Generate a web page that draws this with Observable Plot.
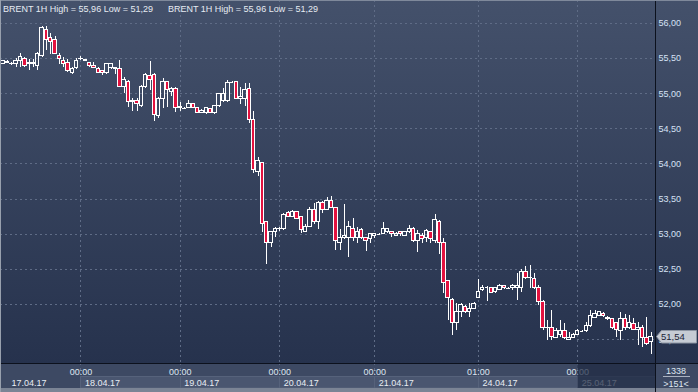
<!DOCTYPE html>
<html><head><meta charset="utf-8">
<script src="https://cdn.jsdelivr.net/npm/d3@7"></script>
<script src="https://cdn.jsdelivr.net/npm/@observablehq/plot@0.6"></script>
<style>
html,body{margin:0;padding:0;background:#2b3750;overflow:hidden;}
#chart svg{display:block;}
</style></head><body><div id="chart"></div>
<script>
const titleText = "BRENT 1H High = 55,96 Low = 51,29";
const opens = [55.43,55.44,55.43,55.42,55.46,55.50,55.42,55.44,55.40,55.54,55.91,55.79,55.76,55.54,55.47,55.44,55.30,55.36,55.49,55.48,
55.44,55.40,55.35,55.32,55.29,55.36,55.37,55.35,55.10,55.17,54.88,54.90,54.83,55.10,55.25,55.27,54.68,54.93,55.16,55.02,
55.07,54.80,54.79,54.80,54.86,54.80,54.73,54.73,54.78,54.72,54.82,54.90,54.89,55.16,55.16,54.92,54.92,55.07,54.63,53.89,
54.02,53.18,52.87,53.03,53.07,53.07,53.30,53.25,53.31,53.24,53.03,53.11,53.34,53.18,53.45,53.35,53.48,53.37,52.88,52.94,
52.95,53.08,52.95,53.06,52.94,52.93,52.98,53.00,53.01,53.03,53.03,52.98,53.03,52.98,53.03,53.07,52.91,52.98,52.94,53.03,
52.90,53.18,52.87,52.33,52.07,51.73,51.89,51.97,51.89,51.94,52.09,52.20,52.24,52.23,52.18,52.21,52.26,52.23,52.23,52.24,
52.24,52.46,52.38,52.36,52.23,52.04,51.66,51.66,51.53,51.57,51.62,51.50,51.53,51.57,51.62,51.62,51.69,51.81,51.84,51.87,
51.81,51.79,51.73,51.62,51.79,51.67,51.72,51.63,51.66,51.53,51.47];
const highs = [55.47,55.47,55.44,55.50,55.57,55.52,55.49,55.49,55.59,55.95,55.96,55.86,55.81,55.57,55.52,55.49,55.37,55.50,55.53,55.49,
55.45,55.44,55.37,55.33,55.43,55.43,55.38,55.47,55.23,55.19,54.93,54.93,55.12,55.29,55.46,55.29,54.95,55.22,55.17,55.09,
55.09,54.88,54.80,54.90,54.86,54.80,54.78,54.80,54.79,54.83,55.00,55.07,55.19,55.17,55.16,55.09,55.15,55.15,54.75,54.09,
54.02,53.18,53.04,53.10,53.10,53.30,53.32,53.34,53.32,53.25,53.14,53.38,53.44,53.47,53.47,53.52,53.54,53.38,53.07,53.42,
53.18,53.22,53.10,53.08,52.95,53.01,53.01,53.01,53.17,53.08,53.04,53.02,53.04,53.04,53.13,53.10,53.06,53.01,53.07,53.04,
53.28,53.20,52.94,52.34,52.09,52.01,52.01,51.99,52.01,52.03,52.36,52.27,52.25,52.24,52.24,52.28,52.26,52.24,52.28,52.44,
52.50,52.54,52.56,52.44,52.27,52.06,51.77,51.91,51.66,51.77,51.73,51.60,51.59,51.64,51.63,51.74,51.91,51.91,51.90,51.88,
51.83,51.80,51.74,51.89,51.86,51.84,51.80,51.74,51.70,51.81,51.60];
const lows = [55.42,55.43,55.40,55.37,55.37,55.37,55.33,55.37,55.33,55.52,55.62,55.56,55.56,55.42,55.37,55.30,55.27,55.35,55.48,55.46,
55.37,55.36,55.29,55.26,55.28,55.35,55.27,55.09,55.00,54.80,54.75,54.75,54.80,55.07,55.05,54.60,54.65,54.79,54.80,54.96,
54.73,54.75,54.78,54.79,54.79,54.72,54.72,54.70,54.72,54.70,54.80,54.88,54.88,55.15,54.92,54.85,54.82,54.58,53.86,53.82,
53.03,52.57,52.81,52.95,53.04,53.06,53.24,53.24,53.21,53.01,53.02,53.10,53.14,53.07,53.30,53.34,53.37,52.77,52.77,52.93,
52.67,52.90,52.87,52.93,52.75,52.87,52.94,52.98,53.00,53.01,52.95,52.97,52.97,52.97,53.01,52.88,52.74,52.87,52.88,52.87,
52.87,52.71,52.16,51.77,51.56,51.63,51.81,51.87,51.81,51.93,52.08,52.18,52.04,52.16,52.16,52.20,52.21,52.21,52.20,52.06,
52.17,52.36,52.23,52.22,51.99,51.63,51.49,51.49,51.52,51.53,51.50,51.49,51.52,51.56,51.61,51.60,51.67,51.80,51.83,51.81,
51.77,51.64,51.53,51.49,51.63,51.64,51.63,51.42,51.39,51.42,51.29];
const closes = [55.46,55.45,55.42,55.46,55.52,55.40,55.44,55.42,55.57,55.94,55.77,55.74,55.57,55.49,55.42,55.32,55.35,55.47,55.50,55.47,
55.39,55.37,55.30,55.29,55.42,55.42,55.35,55.10,55.20,54.88,54.90,54.85,55.10,55.27,55.19,54.70,54.93,55.16,55.05,55.07,
54.80,54.81,54.79,54.85,54.80,54.73,54.76,54.79,54.73,54.82,54.99,55.00,55.15,55.16,54.93,54.95,55.06,54.63,53.91,54.04,
53.15,52.87,53.03,53.07,53.08,53.28,53.25,53.32,53.22,53.06,53.11,53.34,53.17,53.44,53.34,53.48,53.38,52.90,52.94,52.98,
53.10,52.94,53.03,52.95,52.90,53.00,53.00,53.00,53.07,53.07,53.00,53.01,53.00,53.03,53.07,52.91,53.00,52.93,53.04,52.93,
53.20,52.88,52.31,52.09,51.74,51.89,51.99,51.89,51.94,52.01,52.18,52.23,52.24,52.17,52.23,52.26,52.23,52.23,52.26,52.26,
52.46,52.37,52.37,52.23,52.04,51.66,51.67,51.54,51.62,51.62,51.52,51.53,51.57,51.62,51.62,51.69,51.83,51.86,51.89,51.83,
51.79,51.66,51.63,51.79,51.66,51.73,51.64,51.67,51.53,51.44,51.54];
const dayStarts = [18, 41, 64, 86, 110, 133];
const timeLabels = ["00:00", "00:00", "00:00", "00:00", "01:00", "00:00"];
const dateStarts = [1, 18, 41, 64, 86, 110, 133];
const dateLabels = ["17.04.17", "18.04.17", "19.04.17", "20.04.17", "21.04.17", "24.04.17", "25.04.17"];
const yTicks = [51.5, 52, 52.5, 53, 53.5, 54, 54.5, 55, 55.5, 56];
const gridPrices = [52, 52.5, 53, 53.5, 54, 54.5, 55, 55.5, 56];
const lastPrice = 51.54;
const barsTotal = "1338";
const barsVisible = ">151<";

const candles = opens.map((o, i) => ({i, open: o, high: highs[i], low: lows[i], close: closes[i]}));
const dojis = candles.filter(d => d.open === d.close);
const bodies = candles.filter(d => d.open !== d.close);

const FONT = "'Liberation Sans', Arial, sans-serif";
const RED = "#e3123f";
const GRID = "#5f6c86";
const fmt = v => v.toFixed(2).replace(".", ",");
const HW = 0.4;

const plot = Plot.plot({
  width: 698, height: 392,
  marginTop: 0, marginRight: 43, marginBottom: 29, marginLeft: 0,
  style: {background: "transparent", fontFamily: FONT, fontSize: "9px", color: "#d6e2f5", overflow: "visible"},
  x: {domain: [-0.625, 151], axis: null},
  y: {domain: [51.16, 56.327], axis: null},
  marks: [
    Plot.ruleY(gridPrices, {stroke: GRID, strokeDasharray: "2,3", shapeRendering: "crispEdges"}),
    Plot.ruleY([51.5], {x1: 133, x2: 151, stroke: GRID, strokeDasharray: "2,3", shapeRendering: "crispEdges"}),
    Plot.ruleX(dayStarts, {stroke: GRID, strokeDasharray: "2,3", shapeRendering: "crispEdges"}),
    Plot.ruleX(candles, {x: "i", y1: "high", y2: d => Math.max(d.open, d.close), stroke: "#ffffff", shapeRendering: "crispEdges"}),
    Plot.ruleX(candles, {x: "i", y1: d => Math.min(d.open, d.close), y2: "low", stroke: "#ffffff", shapeRendering: "crispEdges"}),
    Plot.rect(bodies, {x1: d => d.i - HW, x2: d => d.i + HW, y1: "open", y2: "close",
      fill: d => d.close < d.open ? RED : "none", stroke: "#ffffff", shapeRendering: "crispEdges"}),
    Plot.ruleY(dojis, {y: "open", x1: d => d.i - HW, x2: d => d.i + HW, stroke: "#ffffff", shapeRendering: "crispEdges"}),
    Plot.axisY(yTicks, {anchor: "right", tickSize: 0, tickPadding: 3, tickFormat: fmt, fill: "#d6e2f5"}),
    Plot.text(dayStarts, {x: d => d, text: (d, k) => timeLabels[k], frameAnchor: "bottom", dy: 11, lineAnchor: "bottom", textAnchor: "middle", fill: "#dfe6f0"}),
    Plot.text(dateStarts, {x: d => d, text: (d, k) => dateLabels[k], frameAnchor: "bottom", dy: 22, dx: 4, lineAnchor: "bottom", textAnchor: "start", fill: "#e8edf3"})
  ]
});

const sx = plot.scale("x"), sy = plot.scale("y");
const W = 698, H = 392, PR = 655, PB = 363;
const NS = "http://www.w3.org/2000/svg";
const back = document.createElementNS(NS, "g");
plot.insertBefore(back, plot.firstChild);
const defs = document.createElementNS(NS, "defs");
plot.insertBefore(defs, plot.firstChild);
const grad = d3.select(defs).append("linearGradient").attr("id", "bgGrad").attr("x1", 0).attr("y1", 0).attr("x2", 0).attr("y2", 1);
grad.append("stop").attr("offset", "0%").attr("stop-color", "#44516b");
grad.append("stop").attr("offset", "100%").attr("stop-color", "#26324d");
const b = d3.select(back);
b.append("rect").attr("x", 0).attr("y", 0).attr("width", W).attr("height", PB).attr("fill", "url(#bgGrad)");
b.append("rect").attr("x", 0).attr("y", PB).attr("width", W).attr("height", H - PB).attr("fill", "#3d4963");
const edges = dayStarts.map(d => Math.round(sx.apply(d)) + 0.5);
edges.forEach((x0, k) => {
  const x1 = k < edges.length - 1 ? edges[k + 1] : PR;
  b.append("rect").attr("x", x0).attr("y", 376.5).attr("width", x1 - x0).attr("height", 11.5)
    .attr("fill", "#4a5670").attr("stroke", "#56627b").attr("stroke-width", 1);
});
b.append("rect").attr("x", 0).attr("y", 388).attr("width", W).attr("height", 4).attr("fill", "#7b8495");
edges.forEach(x => {
  b.append("line").attr("x1", x).attr("x2", x).attr("y1", PB).attr("y2", 376)
    .attr("stroke", GRID).attr("stroke-dasharray", "2,3");
});

const fg = d3.select(plot).append("g").attr("text-anchor", "start");
fg.append("rect").attr("x", edges[edges.length - 1]).attr("y", PB).attr("width", PR - edges[edges.length - 1]).attr("height", 25)
  .attr("fill", "#1f2a42").attr("opacity", 0.72);
fg.append("line").attr("x1", 0).attr("x2", W).attr("y1", PB + 0.5).attr("y2", PB + 0.5).attr("stroke", "#0c111d");
fg.append("line").attr("x1", PR + 0.5).attr("x2", PR + 0.5).attr("y1", 0).attr("y2", H).attr("stroke", "#0c111d");
fg.append("line").attr("x1", 0).attr("x2", W).attr("y1", 0.5).attr("y2", 0.5).attr("stroke", "#7f899b");
fg.append("line").attr("x1", 0.5).attr("x2", 0.5).attr("y1", 0).attr("y2", H).attr("stroke", "#98a0ad");
[3, 168].forEach(x => {
  fg.append("text").attr("x", x).attr("y", 11.5).attr("fill", "#e6ebf2").attr("text-anchor", "start")
    .style("font-family", FONT).style("font-size", "9px").text(titleText);
});
fg.append("text").attr("x", 676).attr("y", 374).attr("text-anchor", "middle").attr("fill", "#dfe6f0")
  .style("font-family", FONT).style("font-size", "9px").text(barsTotal);
fg.append("line").attr("x1", 663).attr("x2", 690).attr("y1", 376.5).attr("y2", 376.5).attr("stroke", "#aab2c0");
fg.append("text").attr("x", 676).attr("y", 387).attr("text-anchor", "middle").attr("fill", "#dfe6f0")
  .style("font-family", FONT).style("font-size", "9px").text(barsVisible);
const yp = Math.round(sy.apply(lastPrice)) + 0.5;
fg.append("path").attr("d", `M${PR + 1.5},${yp} L${PR + 6.5},${yp - 6} L696.5,${yp - 6} L696.5,${yp + 6.5} L${PR + 6.5},${yp + 6.5} Z`)
  .attr("fill", "#c6cbd4").attr("stroke", "#8d95a3");
fg.append("text").attr("x", 661).attr("y", yp + 3.5).attr("fill", "#1c2438").attr("text-anchor", "start")
  .style("font-family", FONT).style("font-size", "9.5px").text(fmt(lastPrice));

document.getElementById("chart").appendChild(plot);
</script>
</body></html>
